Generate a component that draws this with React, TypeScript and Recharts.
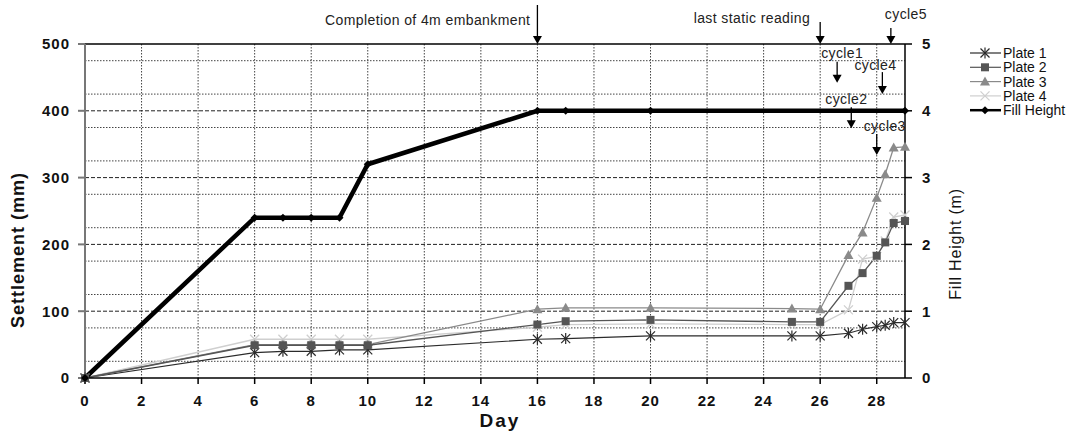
import {
  CartesianGrid,
  Label,
  Line,
  LineChart,
  ReferenceDot,
  ReferenceLine,
  XAxis,
  YAxis,
} from 'recharts';

// days at which the plates were read
const plateDays = [0, 6, 7, 8, 9, 10, 16, 17, 20, 25, 26, 27, 27.5, 28, 28.3, 28.6, 29];
// settlement (mm)
const plate1 = [0, 38, 40, 40, 42, 42, 58, 59, 63, 63, 63, 67, 73, 77, 79, 83, 83];
const plate2 = [0, 49, 49, 49, 49, 49, 80, 85, 87, 84, 84, 138, 157, 183, 203, 232, 235];
const plate3 = [0, 50, 50, 50, 50, 50, 103, 105, 105, 104, 103, 184, 218, 270, 305, 345, 346];
const plate4 = [0, 58, 58, 58, 58, 58, 76, 80, 81, 80, 80, 102, 178, 182, 205, 241, 244];

// fill height (m)
const fillDays = [0, 6, 7, 8, 9, 10, 16, 17, 20, 29];
const fillHeight = [0, 2.4, 2.4, 2.4, 2.4, 3.2, 4, 4, 4, 4];

const dayTicks = [0, 2, 4, 6, 8, 10, 12, 14, 16, 18, 20, 22, 24, 26, 28];
const settlementTicks = [0, 100, 200, 300, 400, 500];
const fillTicks = [0, 1, 2, 3, 4, 5];
const minorGrid = [25, 50, 75, 125, 150, 175, 225, 250, 275, 325, 350, 375, 425, 450, 475];
const majorGrid = [100, 200, 300, 400];
const dayGrid = [2, 4, 6, 8, 10, 12, 14, 16, 18, 20, 22, 24, 26, 28];

// annotations: day where arrow points, settlement value at arrow tip
const noteLabels = ['Completion of 4m embankment', 'last static reading', 'cycle5', 'cycle1', 'cycle4', 'cycle2', 'cycle3'];
const noteDays = [16, 26, 28.5, 26.6, 28.2, 27.1, 28];
const noteTips = [500, 500, 500, 442, 425, 374, 334];

// arrow length, text x offset, text anchor, text baseline offset from tip (px)
const noteLayout = [
  { len: 39, dx: -7, anchor: 'end', ty: -19 },
  { len: 22, dx: -10, anchor: 'end', ty: -21 },
  { len: 16, dx: -6, anchor: 'start', ty: -25 },
  { len: 21, dx: -16, anchor: 'start', ty: -25 },
  { len: 22, dx: -28, anchor: 'start', ty: -24 },
  { len: 21, dx: -26, anchor: 'start', ty: -24 },
  { len: 21, dx: -13, anchor: 'start', ty: -24 },
];

const toRows = (days: number[], vals: number[]) => days.map((d, i) => ({ day: d, v: vals[i] }));

const FONT = '"Liberation Sans", Arial, sans-serif';

const C1 = '#2b2b2b';
const C2 = '#555555';
const C3 = '#8a8a8a';
const C4 = '#cfcfcf';

function Star({ cx, cy, color }: any) {
  const r = 4.5;
  return (
    <g stroke={color} strokeWidth={1.2}>
      <line x1={cx - r} y1={cy - r} x2={cx + r} y2={cy + r} />
      <line x1={cx - r} y1={cy + r} x2={cx + r} y2={cy - r} />
      <line x1={cx} y1={cy - r - 1} x2={cx} y2={cy + r + 1} />
    </g>
  );
}

function Cross({ cx, cy, color }: any) {
  const r = 4.5;
  return (
    <g stroke={color} strokeWidth={1.3}>
      <line x1={cx - r} y1={cy - r} x2={cx + r} y2={cy + r} />
      <line x1={cx - r} y1={cy + r} x2={cx + r} y2={cy - r} />
    </g>
  );
}

function Square({ cx, cy, color }: any) {
  return <rect x={cx - 4} y={cy - 4} width={8} height={8} fill={color} />;
}

function Tri({ cx, cy, color }: any) {
  return <path d={`M${cx},${cy - 5} L${cx + 5},${cy + 4} L${cx - 5},${cy + 4} Z`} fill={color} />;
}

function Diamond({ cx, cy, color }: any) {
  return <path d={`M${cx},${cy - 4} L${cx + 4},${cy} L${cx},${cy + 4} L${cx - 4},${cy} Z`} fill={color} />;
}

const dot = (Shape: any, color: string) => (p: any) =>
  p.cx == null ? null : <Shape key={`d${p.index}`} cx={p.cx} cy={p.cy} color={color} />;

const legendItems = [
  { name: 'Plate 1', color: C1, Shape: Star, w: 1.2 },
  { name: 'Plate 2', color: C2, Shape: Square, w: 1.2 },
  { name: 'Plate 3', color: C3, Shape: Tri, w: 1.2 },
  { name: 'Plate 4', color: C4, Shape: Cross, w: 1.2 },
  { name: 'Fill Height', color: '#000', Shape: Diamond, w: 2.5 },
];

function LegendBox() {
  return (
    <svg width={110} height={76} style={{ position: 'absolute', left: 968, top: 45 }}>
      {legendItems.map((it, i) => {
        const y = 8 + i * 14.3;
        return (
          <g key={it.name}>
            <line x1={2} x2={33} y1={y} y2={y} stroke={it.color} strokeWidth={it.w} />
            <it.Shape cx={17} cy={y} color={it.color} />
            <text x={35} y={y + 5} fontSize={14} fontFamily={FONT} fill="#111">
              {it.name}
            </text>
          </g>
        );
      })}
    </svg>
  );
}

function Note(props: any) {
  const { cx, cy, idx } = props;
  if (cx == null) return null;
  const l = noteLayout[idx];
  const top = cy - l.len;
  return (
    <g>
      <line x1={cx} x2={cx} y1={top} y2={cy - 7} stroke="#000" strokeWidth={1.3} />
      <path d={`M${cx - 4.5},${cy - 8} L${cx + 4.5},${cy - 8} L${cx},${cy} Z`} fill="#000" />
      <text
        x={cx + l.dx}
        y={cy + l.ty}
        textAnchor={l.anchor}
        fontSize={14}
        letterSpacing={0.4}
        fontFamily={FONT}
        fill="#222"
      >
        {noteLabels[idx]}
      </text>
    </g>
  );
}

const tickStyle = { fontSize: 15, fontWeight: 700, fontFamily: FONT, fill: '#111', letterSpacing: 1 };

export default function App() {
  return (
    <div style={{ position: 'relative', width: 1075, height: 435, background: '#fff' }}>
      <style>{'body{margin:0}'}</style>
      <LineChart
        width={1075}
        height={435}
        margin={{ top: 44, right: 110, bottom: 27, left: 25 }}
      >
        <CartesianGrid
          yAxisId="left"
          horizontalValues={minorGrid}
          verticalValues={dayGrid}
          stroke="#444"
          strokeDasharray="1.5 1.5"
        />
        <CartesianGrid
          yAxisId="left"
          horizontalValues={majorGrid}
          vertical={false}
          stroke="#222"
          strokeDasharray="4 2"
        />
        <ReferenceLine yAxisId="left" y={500} stroke="#000" strokeWidth={1.5} />
        <XAxis
          type="number"
          dataKey="day"
          domain={[0, 29]}
          ticks={dayTicks}
          allowDuplicatedCategory={false}
          tick={tickStyle}
          tickSize={6}
          tickMargin={11}
          stroke="#000"
          strokeWidth={1.5}
          height={30}
        >
          <Label value="Day" position="bottom" offset={6} dx={5} style={{ fontSize: 19, fontWeight: 700, fontFamily: FONT, fill: '#111', letterSpacing: 2 }} />
        </XAxis>
        <YAxis
          yAxisId="left"
          domain={[0, 500]}
          ticks={settlementTicks}
          tick={tickStyle}
          tickSize={7}
          tickMargin={8}
          stroke="#777"
          strokeWidth={2}
          width={60}
        >
          <Label
            value="Settlement (mm)"
            angle={-90}
            position="center"
            dx={-37}
            dy={39}
            style={{ fontSize: 18, fontWeight: 700, fontFamily: FONT, fill: '#111', letterSpacing: 1, textAnchor: 'middle' }}
          />
        </YAxis>
        <YAxis
          yAxisId="right"
          orientation="right"
          domain={[0, 5]}
          ticks={fillTicks}
          tick={tickStyle}
          tickSize={7}
          tickMargin={10}
          stroke="#000"
          strokeWidth={1.5}
          width={60}
        >
          <Label
            value="Fill Height (m)"
            angle={-90}
            position="center"
            dx={20}
            dy={33}
            style={{ fontSize: 16, fontFamily: FONT, fill: '#111', letterSpacing: 0.8, textAnchor: 'middle' }}
          />
        </YAxis>
        <Line yAxisId="left" data={toRows(plateDays, plate4)} dataKey="v" name="Plate 4" stroke={C4} strokeWidth={1.3} dot={dot(Cross, C4)} isAnimationActive={false} legendType="none" />
        <Line yAxisId="left" data={toRows(plateDays, plate1)} dataKey="v" name="Plate 1" stroke={C1} strokeWidth={1.2} dot={dot(Star, C1)} isAnimationActive={false} legendType="none" />
        <Line yAxisId="left" data={toRows(plateDays, plate3)} dataKey="v" name="Plate 3" stroke={C3} strokeWidth={1.3} dot={dot(Tri, C3)} isAnimationActive={false} legendType="none" />
        <Line yAxisId="left" data={toRows(plateDays, plate2)} dataKey="v" name="Plate 2" stroke={C2} strokeWidth={1.3} dot={dot(Square, C2)} isAnimationActive={false} legendType="none" />
        <Line yAxisId="right" data={toRows(fillDays, fillHeight)} dataKey="v" name="Fill Height" stroke="#000" strokeWidth={4.5} dot={dot(Diamond, '#000')} isAnimationActive={false} legendType="none" />
        {noteLabels.map((_, i) => (
          <ReferenceDot
            key={`n${i}`}
            yAxisId="left"
            x={noteDays[i]}
            y={noteTips[i]}
            r={0}
            ifOverflow="visible"
            shape={(p: any) => <Note {...p} idx={i} />}
          />
        ))}
      </LineChart>
      <LegendBox />
    </div>
  );
}
